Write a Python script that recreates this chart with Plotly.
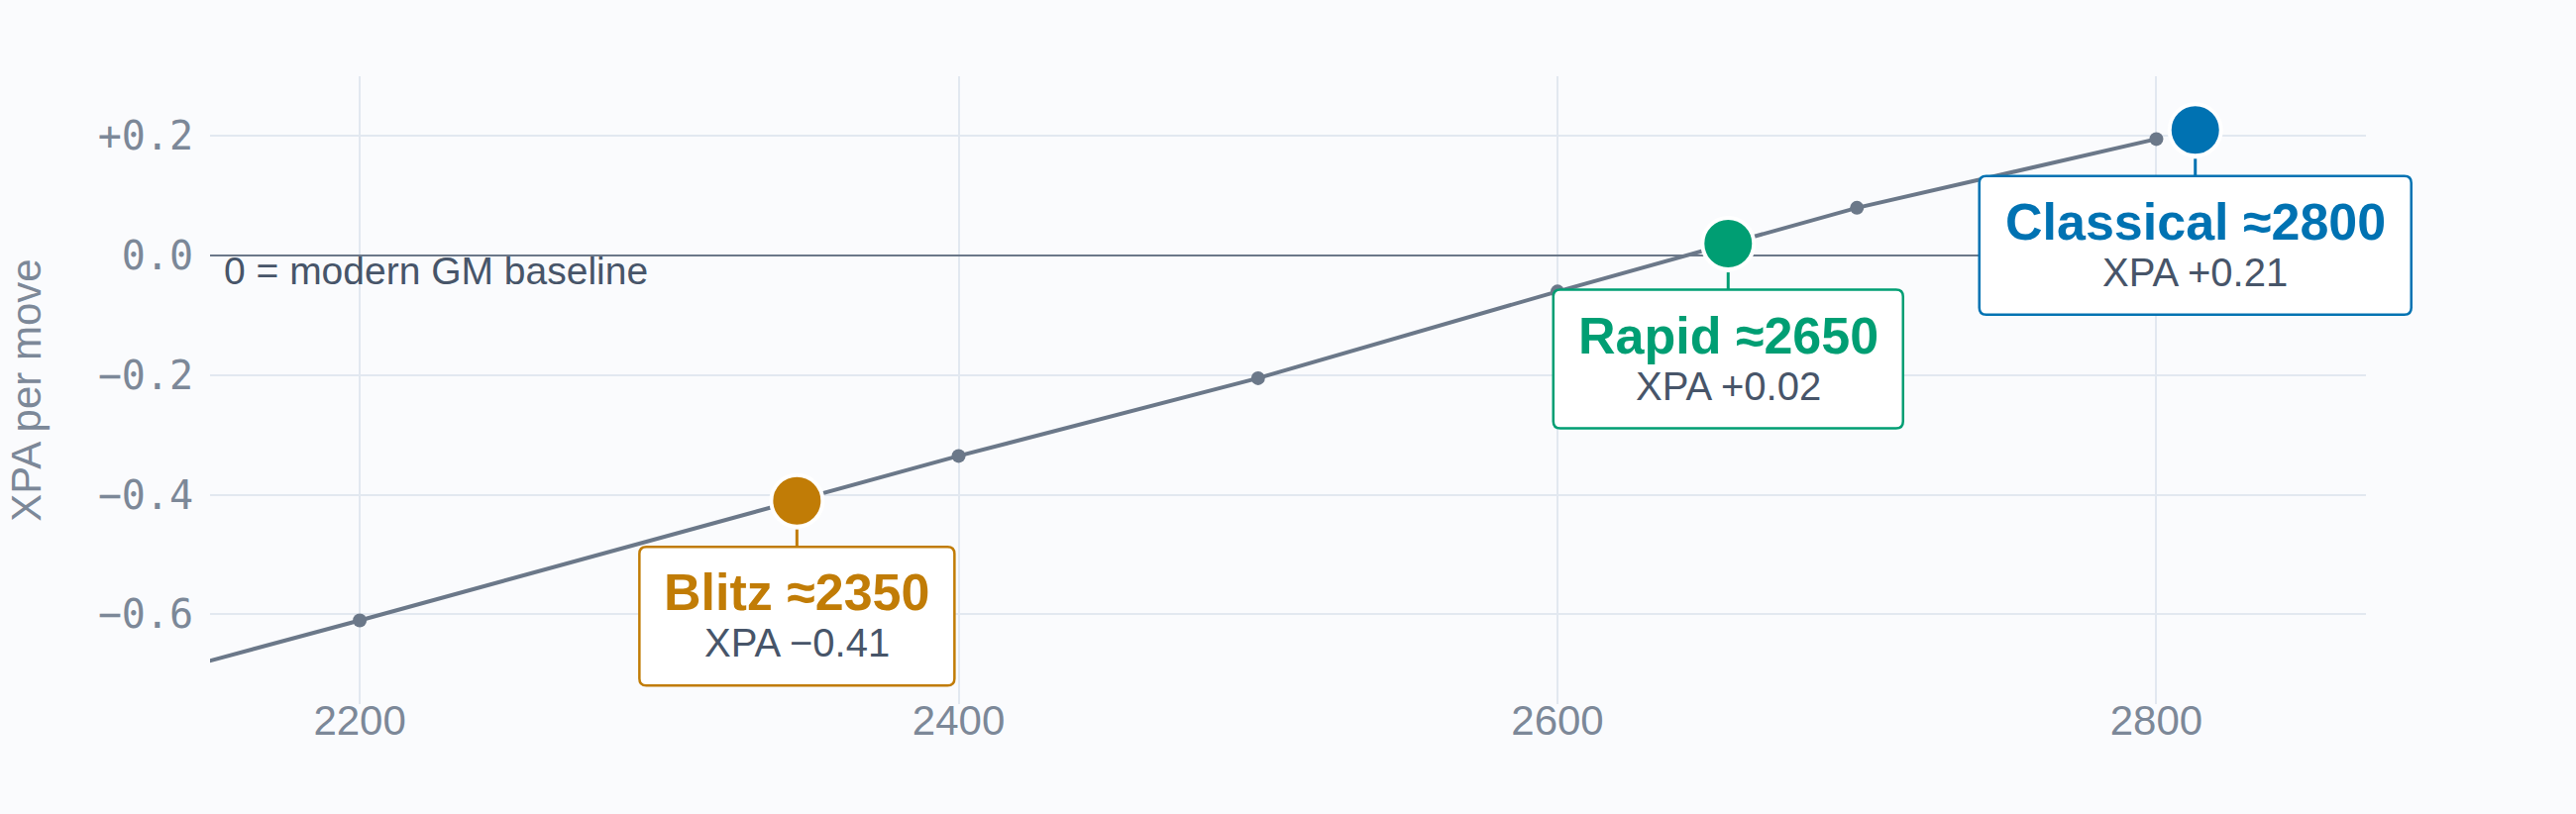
import plotly.graph_objects as go

# ---------------- data ----------------
ELO = [2000, 2200, 2400, 2500, 2600, 2700, 2800]
XPA = [-0.88, -0.61, -0.335, -0.205, -0.06, 0.08, 0.195]

MODES = ["Blitz", "Rapid", "Classical"]
MODE_ELO_LABEL = ["≈2350", "≈2650", "≈2800"]
MODE_X = [2346, 2657, 2813]
MODE_XPA = [-0.41, 0.02, 0.21]
MODE_XPA_TEXT = ["−0.41", "+0.02", "+0.21"]

X_TICKS = [2200, 2400, 2600, 2800]
Y_TICKS = [0.2, 0.0, -0.2, -0.4, -0.6]
Y_TICK_TEXT = ["+0.2", "0.0", "−0.2", "−0.4", "−0.6"]

X_RANGE = [2150, 2870]
Y_RANGE = [-0.75, 0.3]

BASELINE_NOTE = "0 = modern GM baseline"
Y_TITLE = "XPA per move"

# ---------------- style ----------------
COLORS = ["#C17C06", "#009E73", "#0072B2"]
BOX_W = [318, 353, 436]
BOX_H = 140
BOX_TOP = 46.5
BOX_R = 7
STEM_START = 29
BG = "#fafbfd"
GRID = "#e2e8f0"
LINE = "#6b7889"
TICK = "#7c8898"
TEXT_DARK = "#475569"
SANS = "Liberation Sans, Arial, Helvetica, sans-serif"
MONO = "DejaVu Sans Mono, Menlo, monospace"


def rounded_box(w, top, h, r):
    l, rt = -w / 2, w / 2
    t, b = -top, -(top + h)
    return (
        f"M {l + r},{t} L {rt - r},{t} Q {rt},{t} {rt},{t - r} "
        f"L {rt},{b + r} Q {rt},{b} {rt - r},{b} "
        f"L {l + r},{b} Q {l},{b} {l},{b + r} "
        f"L {l},{t - r} Q {l},{t} {l + r},{t} Z"
    )


fig = go.Figure()

fig.add_trace(go.Scatter(
    x=ELO, y=XPA, mode="lines+markers",
    line=dict(color=LINE, width=4),
    marker=dict(color=LINE, size=14),
    hoverinfo="skip", showlegend=False,
))

fig.add_trace(go.Scatter(
    x=MODE_X, y=MODE_XPA, mode="markers",
    marker=dict(color=COLORS, size=52, line=dict(color="white", width=4)),
    hoverinfo="skip", showlegend=False, cliponaxis=False,
))

shapes = []
annotations = []
for i, name in enumerate(MODES):
    fx = (MODE_X[i] - X_RANGE[0]) / (X_RANGE[1] - X_RANGE[0])
    shapes.append(dict(
        type="line", xref="paper", yref="y",
        xsizemode="pixel", ysizemode="pixel",
        xanchor=fx, yanchor=MODE_XPA[i],
        x0=0, x1=0, y0=-STEM_START, y1=-BOX_TOP,
        line=dict(color=COLORS[i], width=3), layer="above",
    ))
    shapes.append(dict(
        type="path", xref="paper", yref="y",
        xsizemode="pixel", ysizemode="pixel",
        xanchor=fx, yanchor=MODE_XPA[i],
        path=rounded_box(BOX_W[i], BOX_TOP, BOX_H, BOX_R),
        fillcolor="white", line=dict(color=COLORS[i], width=2.5),
        layer="above",
    ))
    annotations.append(dict(
        x=MODE_X[i], y=MODE_XPA[i], xref="x", yref="y",
        text=f"<b>{name} {MODE_ELO_LABEL[i]}</b>",
        showarrow=False, xanchor="center", yanchor="middle",
        yshift=-92.5,
        font=dict(family=SANS, size=52, color=COLORS[i]),
    ))
    annotations.append(dict(
        x=MODE_X[i], y=MODE_XPA[i], xref="x", yref="y",
        text=f"XPA {MODE_XPA_TEXT[i]}",
        showarrow=False, xanchor="center", yanchor="middle",
        yshift=-143.5,
        font=dict(family=SANS, size=40, color=TEXT_DARK),
    ))

annotations.append(dict(
    x=0, y=0, xref="paper", yref="y",
    text=BASELINE_NOTE, showarrow=False,
    xanchor="left", yanchor="top", xshift=12, yshift=8,
    font=dict(family=SANS, size=39, color=TEXT_DARK),
))

fig.update_layout(
    width=2600, height=822,
    margin=dict(l=212, r=212, t=77, b=111),
    paper_bgcolor=BG, plot_bgcolor=BG,
    showlegend=False,
    shapes=shapes, annotations=annotations,
    xaxis=dict(
        range=X_RANGE, tickvals=X_TICKS,
        showgrid=True, gridcolor=GRID, gridwidth=2,
        zeroline=False, showline=False, ticks="",
        ticklabelstandoff=-12,
        tickfont=dict(family=SANS, size=42, color=TICK),
    ),
    yaxis=dict(
        range=Y_RANGE, tickvals=Y_TICKS, ticktext=Y_TICK_TEXT,
        showgrid=True, gridcolor=GRID, gridwidth=2,
        zeroline=True, zerolinecolor=LINE, zerolinewidth=2,
        showline=False, ticks="", ticklabelstandoff=16,
        tickfont=dict(family=MONO, size=40, color=TICK),
        title=dict(text=Y_TITLE, standoff=43,
                   font=dict(family=SANS, size=42, color=TICK)),
    ),
)

fig.write_html(
    "out.html",
    config={"displayModeBar": False},
    post_script="document.body.style.margin='0';document.body.style.overflow='hidden';",
)
